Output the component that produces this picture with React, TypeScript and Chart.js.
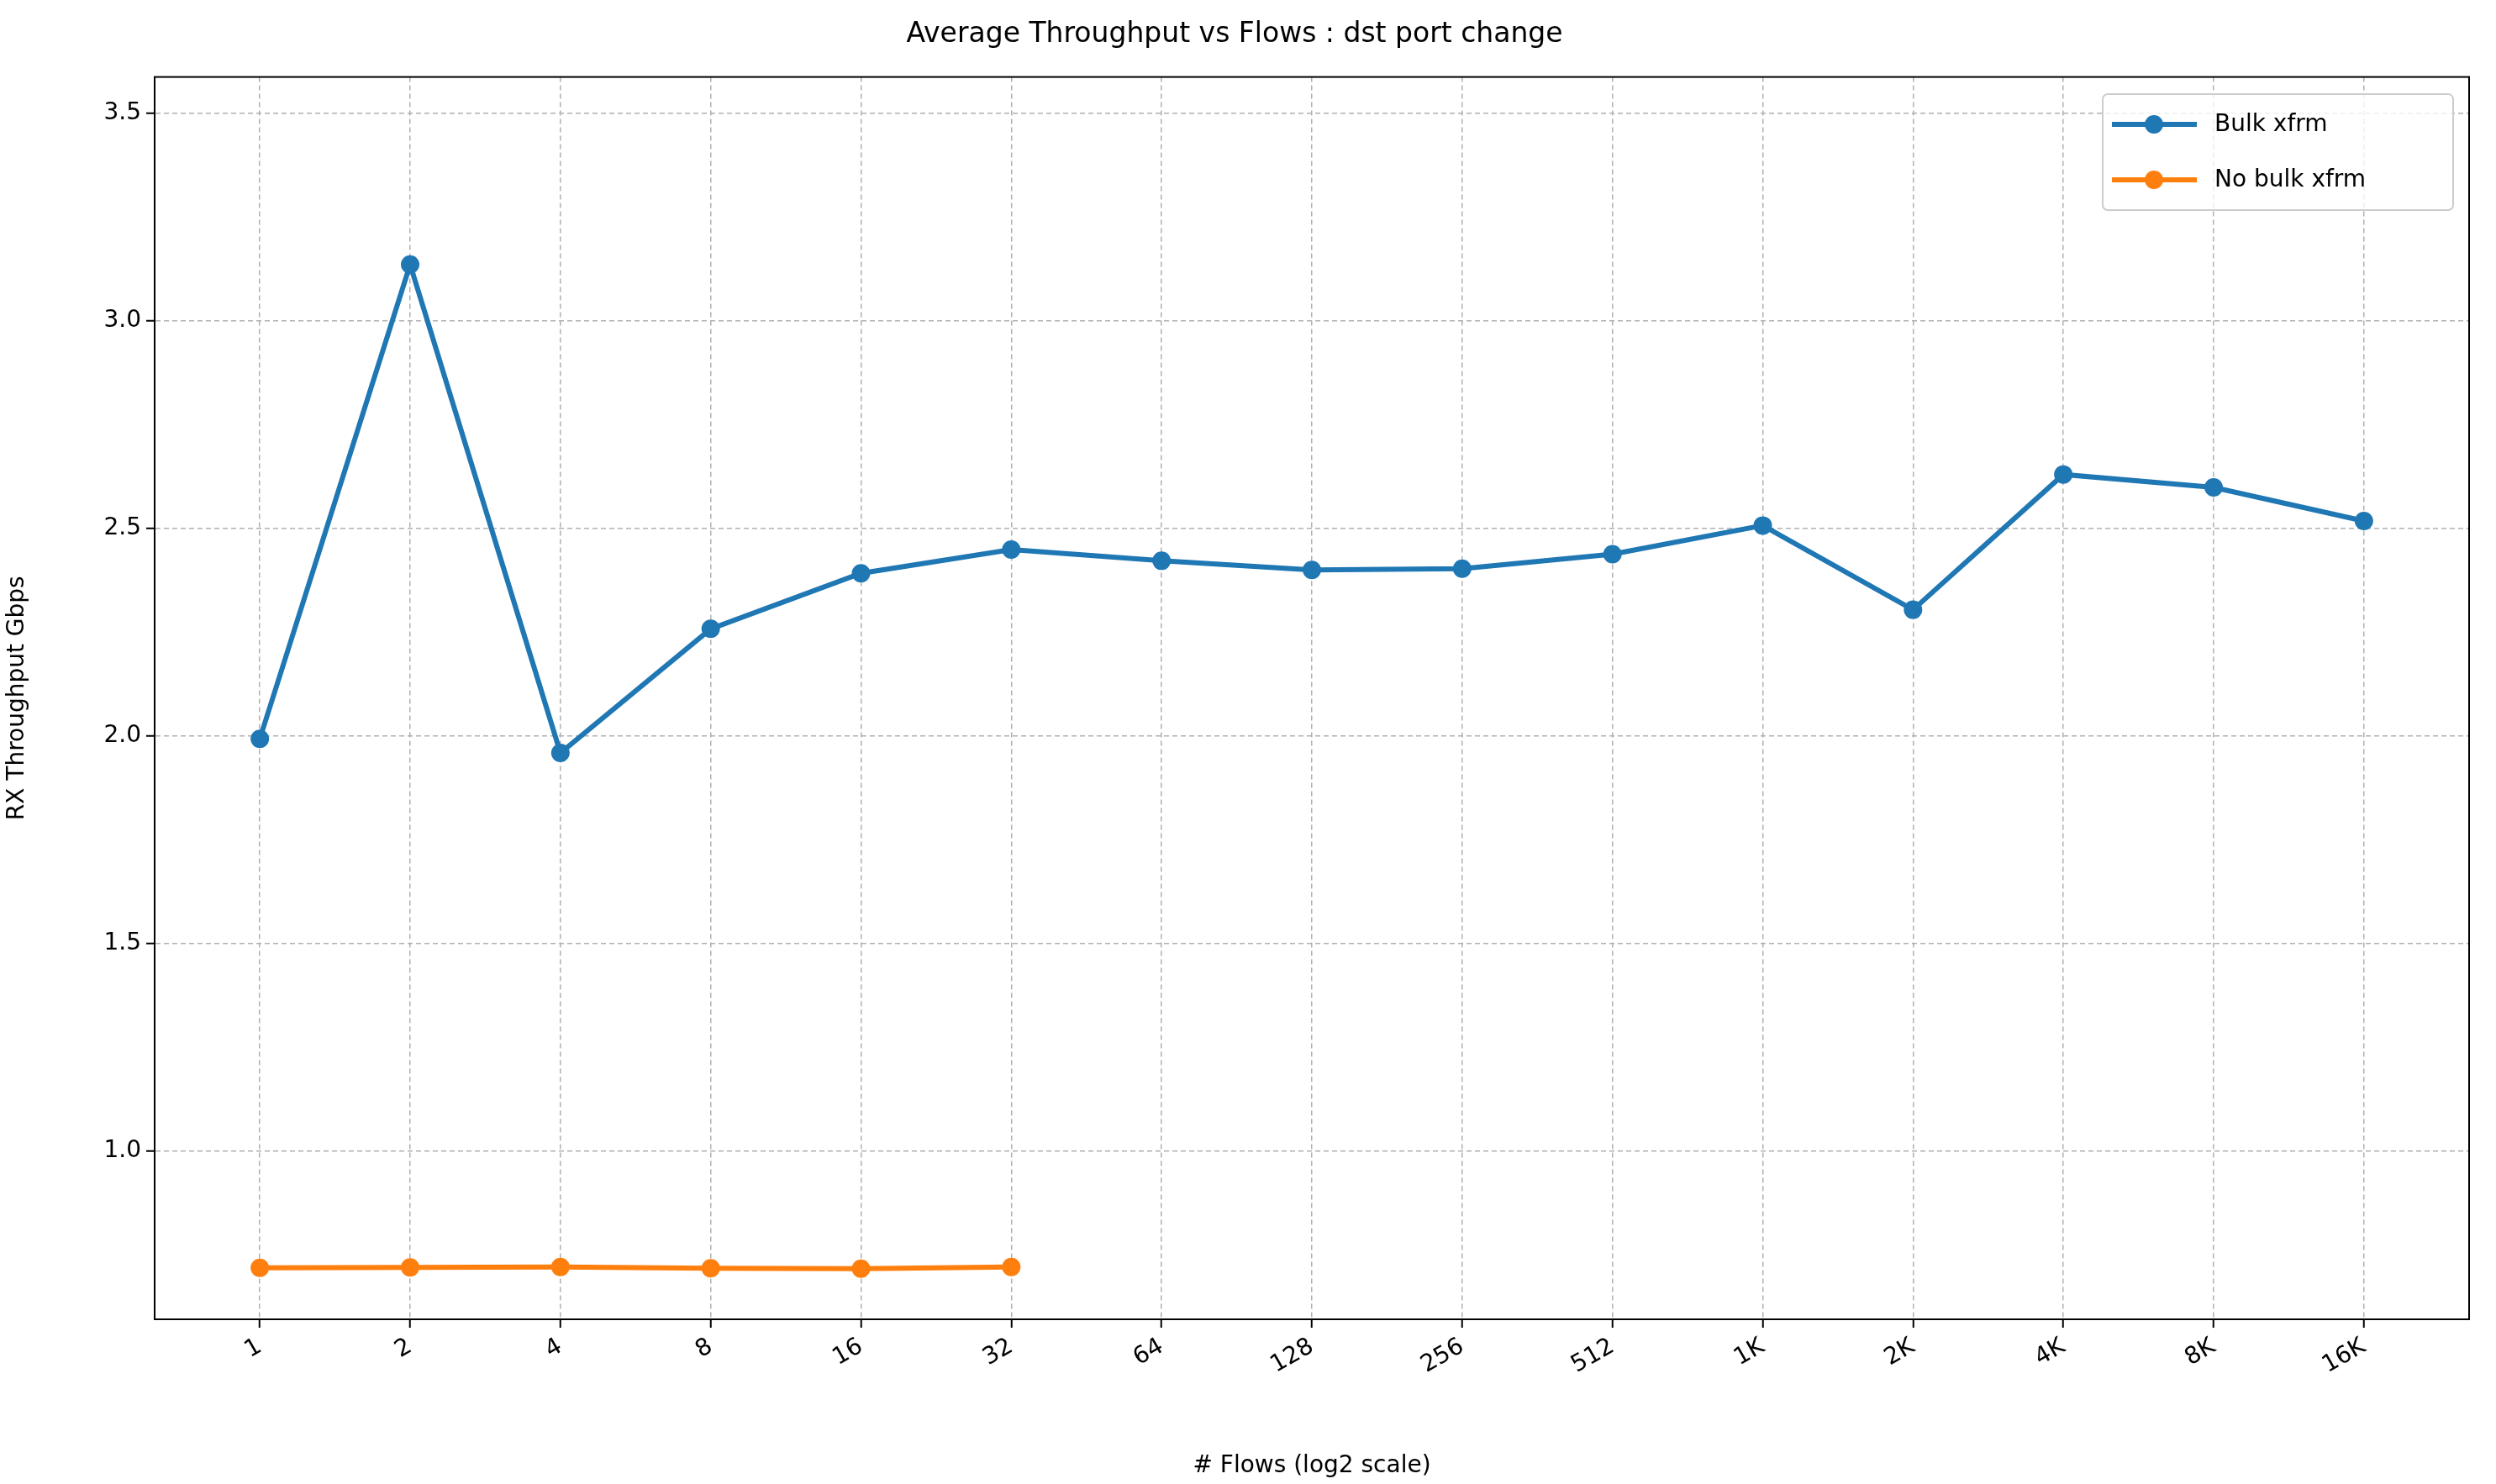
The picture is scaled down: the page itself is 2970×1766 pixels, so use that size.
import { useEffect, useRef } from "react";
import { Chart, registerables } from "chart.js";

Chart.register(...registerables);

const flowLabels = ["1", "2", "4", "8", "16", "32", "64", "128", "256", "512", "1K", "2K", "4K", "8K", "16K"];
const bulkXfrm = [1.993, 3.136, 1.959, 2.258, 2.392, 2.449, 2.422, 2.4, 2.403, 2.438, 2.507, 2.304, 2.63, 2.599, 2.518];
const noBulkXfrm = [0.718, 0.719, 0.72, 0.717, 0.716, 0.72];

const BLUE = "#1f77b4";
const ORANGE = "#ff7f0e";
const FONT = "'DejaVu Sans', sans-serif";

const framePlugin = {
  id: "frame",
  afterDraw(chart: any) {
    const { ctx, chartArea: a } = chart;
    ctx.save();
    ctx.strokeStyle = "#000";
    ctx.lineWidth = 2;
    ctx.strokeRect(a.left, a.top, a.right - a.left, a.bottom - a.top);
    // legend box in the upper right
    const x0 = 2502, y0 = 112, w = 417, h = 138;
    ctx.fillStyle = "rgba(255,255,255,0.8)";
    ctx.strokeStyle = "#cccccc";
    ctx.lineWidth = 2;
    ctx.beginPath();
    ctx.roundRect(x0, y0, w, h, 6);
    ctx.fill();
    ctx.stroke();
    chart.data.datasets.forEach((ds: any, i: number) => {
      const y = 148 + i * 66;
      ctx.strokeStyle = ds.borderColor;
      ctx.lineWidth = 6;
      ctx.beginPath();
      ctx.moveTo(2513, y);
      ctx.lineTo(2614, y);
      ctx.stroke();
      ctx.fillStyle = ds.borderColor;
      ctx.beginPath();
      ctx.arc(2563, y, 11, 0, Math.PI * 2);
      ctx.fill();
      ctx.fillStyle = "#000";
      ctx.font = `28px ${FONT}`;
      ctx.textBaseline = "middle";
      ctx.fillText(ds.label, 2635, y + 1);
    });
    ctx.restore();
  },
};

const App = () => {
  const canvasRef = useRef<HTMLCanvasElement>(null);
  useEffect(() => {
    if (!canvasRef.current) return;
    const ctx = canvasRef.current.getContext("2d");
    if (!ctx) return;

    const chart = new Chart(ctx, {
      type: "line",
      data: {
        datasets: [
          {
            label: "Bulk xfrm",
            data: bulkXfrm.map((v, i) => ({ x: i, y: v })),
            borderColor: BLUE,
            backgroundColor: BLUE,
            borderWidth: 6,
            pointRadius: 11,
            pointBorderWidth: 0,
          },
          {
            label: "No bulk xfrm",
            data: noBulkXfrm.map((v, i) => ({ x: i, y: v })),
            borderColor: ORANGE,
            backgroundColor: ORANGE,
            borderWidth: 6,
            pointRadius: 11,
            pointBorderWidth: 0,
          },
        ],
      },
      options: {
        animation: false,
        responsive: false,
        devicePixelRatio: 1,
        layout: { padding: { left: 0, right: 32, top: 0, bottom: 0 } },
        plugins: {
          legend: { display: false },
          tooltip: { enabled: false },
          title: {
            display: true,
            text: "Average Throughput vs Flows : dst port change",
            color: "#000",
            font: { family: FONT, size: 33, weight: "normal" },
            padding: { top: 22, bottom: 30 },
          },
        },
        scales: {
          x: {
            type: "linear",
            min: -0.7,
            max: 14.7,
            afterBuildTicks: (s: any) => {
              s.ticks = flowLabels.map((_, i) => ({ value: i }));
            },
            afterFit: (s: any) => {
              s.height = 196;
            },
            ticks: {
              callback: (v: any) => flowLabels[v] ?? "",
              color: "#000",
              font: { family: FONT, size: 28 },
              minRotation: 30,
              maxRotation: 30,
              padding: 6,
            },
            grid: { color: "#b0b0b0", lineWidth: 1.5, tickColor: "#000", tickLength: 10, tickWidth: 2 },
            border: { dash: [6, 4], color: "#000", width: 2 },
            title: {
              display: true,
              text: "# Flows (log2 scale)",
              color: "#000",
              font: { family: FONT, size: 28 },
              padding: { top: 4 },
            },
          },
          y: {
            min: 0.594,
            max: 3.588,
            afterBuildTicks: (s: any) => {
              s.ticks = [1, 1.5, 2, 2.5, 3, 3.5].map((v) => ({ value: v }));
            },
            afterFit: (s: any) => {
              s.width = 184;
            },
            ticks: {
              callback: (v: any) => Number(v).toFixed(1),
              color: "#000",
              font: { family: FONT, size: 28 },
              padding: 6,
            },
            grid: { color: "#b0b0b0", lineWidth: 1.5, tickColor: "#000", tickLength: 10, tickWidth: 2 },
            border: { dash: [6, 4], color: "#000", width: 2 },
            title: {
              display: true,
              text: "RX Throughput Gbps",
              color: "#000",
              font: { family: FONT, size: 28 },
              padding: { bottom: 10 },
            },
          },
        },
      },
      plugins: [framePlugin],
    });

    return () => chart.destroy();
  }, []);

  return (
    <div style={{ position: "fixed", left: 0, top: 0, width: 2970, height: 1766, background: "#fff" }}>
      <canvas ref={canvasRef} width={2970} height={1766}></canvas>
    </div>
  );
};

export default App;
